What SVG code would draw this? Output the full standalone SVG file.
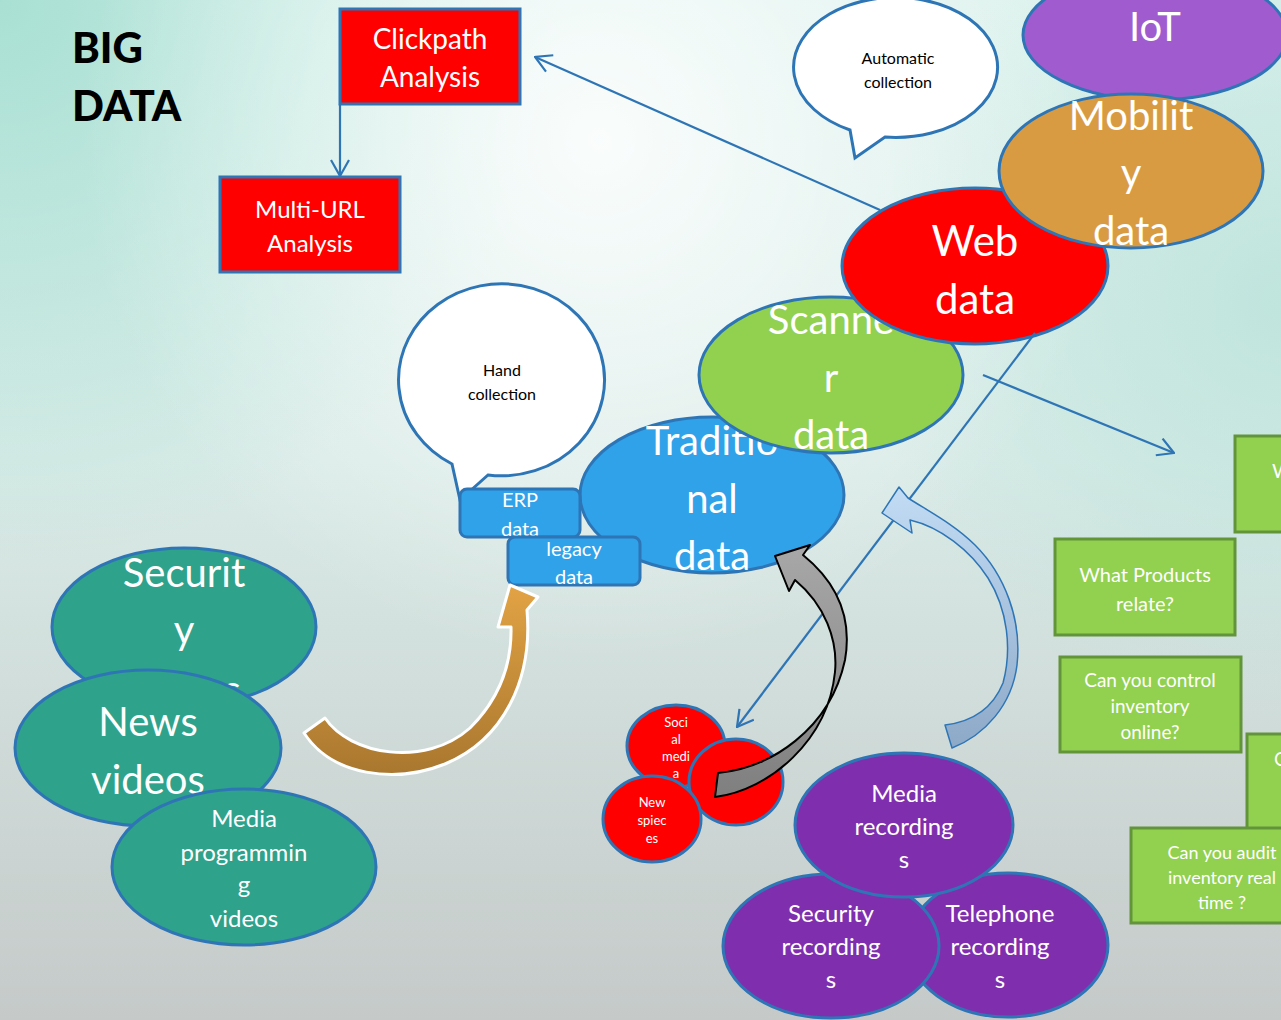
<svg xmlns="http://www.w3.org/2000/svg" width="1281" height="1020" viewBox="0 0 1281 1020">
<defs>
  <linearGradient id="bgv" x1="0" y1="0" x2="0" y2="1">
    <stop offset="0" stop-color="#dcf2ed"/>
    <stop offset="0.45" stop-color="#d9ebe7"/>
    <stop offset="1" stop-color="#c5cac9"/>
  </linearGradient>
  <radialGradient id="bgw" cx="600" cy="140" r="520" gradientUnits="userSpaceOnUse">
    <stop offset="0" stop-color="#ffffff" stop-opacity="0.85"/>
    <stop offset="1" stop-color="#ffffff" stop-opacity="0"/>
  </radialGradient>
  <radialGradient id="bgt" cx="0" cy="0" r="560" gradientUnits="userSpaceOnUse">
    <stop offset="0" stop-color="#a6dfd2" stop-opacity="0.95"/>
    <stop offset="1" stop-color="#a6dfd2" stop-opacity="0"/>
  </radialGradient>
  <radialGradient id="bgr" cx="1281" cy="300" r="420" gradientUnits="userSpaceOnUse">
    <stop offset="0" stop-color="#b9e3da" stop-opacity="0.8"/>
    <stop offset="1" stop-color="#b9e3da" stop-opacity="0"/>
  </radialGradient>
  <linearGradient id="gOrange" x1="0" y1="0" x2="0" y2="1">
    <stop offset="0" stop-color="#e2a344"/>
    <stop offset="1" stop-color="#a9772f"/>
  </linearGradient>
  <linearGradient id="gGray" x1="0" y1="0" x2="0" y2="1">
    <stop offset="0" stop-color="#a8a8a8"/>
    <stop offset="1" stop-color="#7f7f7f"/>
  </linearGradient>
  <linearGradient id="gLBlue" x1="0" y1="0" x2="0" y2="1">
    <stop offset="0" stop-color="#c3dcf5"/>
    <stop offset="1" stop-color="#8da9c8"/>
  </linearGradient>
  <marker id="open" viewBox="0 0 18 20" refX="17" refY="10" markerWidth="18" markerHeight="20" orient="auto" markerUnits="userSpaceOnUse">
    <path d="M1,1 L17,10 L1,19" fill="none" stroke="#2e75b6" stroke-width="2.2"/>
  </marker>
  <style>
    text{font-family:Lato,"Open Sans","Liberation Sans",sans-serif;text-anchor:middle;fill:#ffffff}
    .big{font-size:40px}
    .mid{font-size:24px}
    .sm{font-size:13px}
    .blk{fill:#000000;font-size:16px}
    .ttl{text-anchor:start;fill:#000000;font-size:42px;font-weight:900}
    .ell{stroke:#2e75b6;stroke-width:3}
    .red{fill:#ff0000}
    .grn{fill:#92d050}
    .blu{fill:#2fa2ea}
    .teal{fill:#2fa28b}
    .pur{fill:#7f2fae}
    .box{fill:#92d050;stroke:#62943a;stroke-width:3}
    .gt{font-size:20px}
    .conn{fill:none;stroke:#2e75b6;stroke-width:2.2}
  </style>
</defs>

<rect width="1281" height="1020" fill="url(#bgv)"/>
<rect width="1281" height="1020" fill="url(#bgt)"/>
<rect width="1281" height="1020" fill="url(#bgr)"/>
<rect width="1281" height="1020" fill="url(#bgw)"/>

<g id="title">
  <text x="72" y="63" class="ttl">BIG</text>
  <text x="72" y="121" class="ttl">DATA</text>
</g>

<g id="clickpath">
  <rect x="340" y="9" width="180" height="95" class="red" stroke="#2e75b6" stroke-width="3"/>
  <text x="430" y="49" style="font-size:28px">Clickpath</text>
  <text x="430" y="87" style="font-size:28px">Analysis</text>
</g>
<g id="multiurl">
  <rect x="220" y="177" width="180" height="95" class="red" stroke="#2e75b6" stroke-width="3"/>
  <text x="310" y="218" class="mid">Multi-URL</text>
  <text x="310" y="252" class="mid">Analysis</text>
</g>

<g id="auto-bubble">
  <path d="M885,137 A102 70 0 1 0 850,130 L855,158 Z" fill="#ffffff" class="ell"/>
  <text x="898" y="64" class="blk">Automatic</text>
  <text x="898" y="88" class="blk">collection</text>
</g>

<g id="iot">
  <ellipse cx="1155" cy="35" rx="132" ry="65" fill="#a05ccf" class="ell"/>
  <text x="1155" y="41" class="big">IoT</text>
</g>

<g id="hand-bubble">
  <path d="M488,475 A103 96 0 1 0 452,464 L460,500 Z" fill="#ffffff" class="ell"/>
  <text x="502" y="376" class="blk">Hand</text>
  <text x="502" y="400" class="blk">collection</text>
</g>

<g id="traditional">
  <ellipse cx="712" cy="495" rx="132" ry="78" class="blu ell"/>
  <text x="712" y="455" class="big">Traditio</text>
  <text x="712" y="513" class="big">nal</text>
  <text x="712" y="570" class="big">data</text>
</g>

<g id="erp">
  <rect x="460" y="489" width="120" height="48" rx="7" class="blu" stroke="#2e75b6" stroke-width="3"/>
  <text x="520" y="507" style="font-size:20px">ERP</text>
  <text x="520" y="536" style="font-size:20px">data</text>
</g>
<g id="legacy">
  <rect x="508" y="537" width="132" height="48" rx="7" class="blu" stroke="#2e75b6" stroke-width="3"/>
  <text x="574" y="556" style="font-size:20px">legacy</text>
  <text x="574" y="584" style="font-size:20px">data</text>
</g>

<g id="scanner">
  <ellipse cx="831" cy="375" rx="132" ry="78" class="grn ell"/>
  <text x="831" y="334" class="big">Scanne</text>
  <text x="831" y="392" class="big">r</text>
  <text x="831" y="449" class="big">data</text>
</g>

<g id="web">
  <ellipse cx="975" cy="266" rx="133" ry="78" class="red ell"/>
  <text x="975" y="256" class="big" style="font-size:42px">Web</text>
  <text x="975" y="314" class="big" style="font-size:42px">data</text>
</g>

<g id="mobility">
  <ellipse cx="1131" cy="171" rx="132" ry="77" fill="#d99b42" class="ell"/>
  <text x="1131" y="130" class="big">Mobilit</text>
  <text x="1131" y="187" class="big">y</text>
  <text x="1131" y="245" class="big">data</text>
</g>

<g id="q-what-partial">
  <rect x="1235" y="436" width="60" height="96" class="box"/>
  <text x="1272" y="478" class="gt" style="text-anchor:start">W</text>
</g>
<g id="q-products">
  <rect x="1055" y="539" width="180" height="96" class="box"/>
  <text x="1145" y="582" class="gt">What Products</text>
  <text x="1145" y="611" class="gt">relate?</text>
</g>
<g id="q-control">
  <rect x="1060" y="657" width="181" height="95" class="box"/>
  <text x="1150" y="687" style="font-size:19px">Can you control</text>
  <text x="1150" y="713" style="font-size:19px">inventory</text>
  <text x="1150" y="739" style="font-size:19px">online?</text>
</g>
<g id="q-partial">
  <rect x="1247" y="734" width="50" height="100" class="box"/>
  <text x="1274" y="766" style="font-size:19px;text-anchor:start">C</text>
</g>
<g id="q-audit">
  <rect x="1131" y="828" width="165" height="95" class="box"/>
  <text x="1222" y="859" style="font-size:18px">Can you audit</text>
  <text x="1222" y="884" style="font-size:18px">inventory real</text>
  <text x="1222" y="909" style="font-size:18px">time ?</text>
</g>

<g id="social-media">
  <ellipse cx="676" cy="746" rx="49" ry="41" class="red ell"/>
  <text x="676" y="727" class="sm">Soci</text>
  <text x="676" y="744" class="sm">al</text>
  <text x="676" y="761" class="sm">medi</text>
  <text x="676" y="778" class="sm">a</text>
</g>
<g id="red-circle">
  <ellipse cx="736" cy="782" rx="47" ry="43" class="red ell"/>
</g>
<g id="new-spieces">
  <ellipse cx="652" cy="819" rx="49" ry="43" class="red ell"/>
  <text x="652" y="807" class="sm">New</text>
  <text x="652" y="825" class="sm">spiec</text>
  <text x="652" y="843" class="sm">es</text>
</g>

<g id="security">
  <ellipse cx="184" cy="627" rx="132" ry="79" class="teal ell"/>
  <text x="184" y="587" class="big">Securit</text>
  <text x="184" y="644" class="big">y</text>
  <text x="184" y="704" class="big">videos</text>
</g>
<g id="news">
  <ellipse cx="148" cy="748" rx="133" ry="78" class="teal ell"/>
  <text x="148" y="736" class="big">News</text>
  <text x="148" y="794" class="big">videos</text>
</g>
<g id="media-programming">
  <ellipse cx="244" cy="867" rx="132" ry="78" class="teal ell"/>
  <text x="244" y="827" class="mid">Media</text>
  <text x="244" y="861" class="mid">programmin</text>
  <text x="244" y="893" class="mid">g</text>
  <text x="244" y="927" class="mid">videos</text>
</g>

<g id="telephone-rec">
  <ellipse cx="1008" cy="945" rx="100" ry="72" class="pur ell"/>
  <text x="1000" y="922" class="mid">Telephone</text>
  <text x="1000" y="955" class="mid">recording</text>
  <text x="1000" y="988" class="mid">s</text>
</g>
<g id="security-rec">
  <ellipse cx="831" cy="946" rx="108" ry="72" class="pur ell"/>
  <text x="831" y="922" class="mid">Security</text>
  <text x="831" y="955" class="mid">recording</text>
  <text x="831" y="988" class="mid">s</text>
</g>
<g id="media-rec">
  <ellipse cx="904" cy="825" rx="109" ry="72" class="pur ell"/>
  <text x="904" y="802" class="mid">Media</text>
  <text x="904" y="835" class="mid">recording</text>
  <text x="904" y="868" class="mid">s</text>
</g>

<g id="connectors">
  <line x1="340" y1="104" x2="340" y2="176" class="conn" marker-end="url(#open)"/>
  <line x1="880" y1="210" x2="535" y2="57" class="conn" marker-end="url(#open)"/>
  <line x1="1035" y1="333" x2="737" y2="727" class="conn" marker-end="url(#open)"/>
  <line x1="983" y1="375" x2="1174" y2="453" class="conn" marker-end="url(#open)"/>
  <path d="M304,733 L325,718 C350,755 425,768 470,728 C498,700 512,665 511,627 L498,627 L510,585 L538,597 L527,610 C533,680 503,740 445,764 C395,784 332,776 304,733 Z" fill="url(#gOrange)" stroke="#ffffff" stroke-width="3" stroke-linejoin="round"/>
  <path d="M718,773 C770,768 830,730 845,660 C852,620 840,585 803,555 L810,545 L775,556 L789,591 L795,580 C825,605 838,640 835,672 C828,740 770,790 715,797 Z" fill="url(#gGray)" stroke="#000000" stroke-width="2" stroke-linejoin="round"/>
  <path d="M952,748 C985,735 1012,705 1017,665 C1022,620 1005,575 975,545 C955,525 930,512 908,498 L899,487 L882,513 L912,533 L910,520 C940,527 970,550 988,578 C1008,610 1012,650 1003,683 C992,710 970,722 945,725 Z" fill="url(#gLBlue)" stroke="#2e75b6" stroke-width="1.5" stroke-linejoin="round"/>
</g>
</svg>
